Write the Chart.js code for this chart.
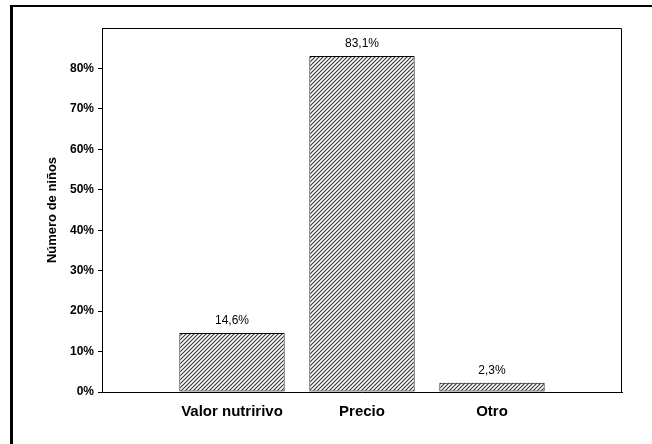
<!DOCTYPE html>
<html>
<head>
<meta charset="utf-8">
<script src="https://cdn.jsdelivr.net/npm/chart.js@4/dist/chart.umd.min.js"></script>
<style>
  html, body { margin: 0; padding: 0; background: #fff; }
  #wrap { position: relative; width: 652px; height: 444px; }
  #frame { position: absolute; left: 10px; top: 5px; right: 0; bottom: 0;
           border-left: 3px solid #000; border-top: 2px solid #000; pointer-events: none; }
  canvas { position: absolute; left: 0; top: 0; }
</style>
</head>
<body>
<div id="wrap">
  <canvas id="chart" width="652" height="444"></canvas>
  <div id="frame"></div>
</div>
<script>
// categories (empty slots at the ends keep the bars where the original puts them)
const categories = ['', 'Valor nutririvo', 'Precio', 'Otro', ''];
const values = [null, 14.6, 83.1, 2.3, null];
const yTicks = [0, 10, 20, 30, 40, 50, 60, 70, 80];
const yTitle = 'Número de niños';

// hatch pattern
function makeHatch() {
    const c = document.createElement('canvas');
    c.width = 4; c.height = 4;
    const g = c.getContext('2d');
    g.fillStyle = '#fff';
    g.fillRect(0, 0, 4, 4);
    g.strokeStyle = '#333';
    g.lineWidth = 1.1;
    g.beginPath();
    g.moveTo(0, 4); g.lineTo(4, 0);
    g.moveTo(-1, 1); g.lineTo(1, -1);
    g.moveTo(3, 5); g.lineTo(5, 3);
    g.stroke();
    return g.createPattern(c, 'repeat');
}

const fmt = v => v.toFixed(1).replace('.', ',') + '%';

// value labels, plot box, and the rotated y title
const extras = {
    id: 'extras',
    afterDatasetsDraw(chart) {
        const ctx = chart.ctx;
        const area = chart.chartArea;
        ctx.save();
        ctx.strokeStyle = '#000';
        ctx.lineWidth = 1;
        ctx.beginPath();
        ctx.moveTo(area.left + 0.5, area.top + 0.5);
        ctx.lineTo(area.right - 0.5, area.top + 0.5);
        ctx.lineTo(area.right - 0.5, area.bottom);
        ctx.stroke();

        ctx.fillStyle = '#000';
        ctx.font = '12px "Liberation Sans", Arial, sans-serif';
        ctx.textAlign = 'center';
        ctx.textBaseline = 'bottom';
        chart.getDatasetMeta(0).data.forEach((bar, i) => {
            if (values[i] == null) return;
            ctx.fillText(fmt(values[i]), bar.x, bar.y - 6);
        });

        ctx.font = 'bold 13px "Liberation Sans", Arial, sans-serif';
        ctx.translate(52, (area.top + area.bottom) / 2);
        ctx.rotate(-Math.PI / 2);
        ctx.textBaseline = 'middle';
        ctx.fillText(yTitle, 0, 0);
        ctx.restore();
    }
};

const ctx = document.getElementById('chart').getContext('2d');
const chart = new Chart(ctx, {
    type: 'bar',
    data: {
        labels: categories,
        datasets: [{
            data: values,
            backgroundColor: makeHatch(),
            borderColor: '#000',
            borderWidth: 1,
            borderSkipped: false,
            barPercentage: 0.81,
            categoryPercentage: 1
        }]
    },
    options: {
        responsive: false,
        animation: false,
        layout: { padding: { left: 14, right: 30, top: 28, bottom: 0 } },
        plugins: { legend: { display: false }, tooltip: { enabled: false } },
        scales: {
            x: {
                offset: false,
                grid: { display: false },
                border: { display: true, color: '#000', width: 1 },
                ticks: {
                    color: '#000',
                    font: { family: '"Liberation Sans", Arial, sans-serif', size: 15, weight: 'bold' },
                    padding: 3,
                    maxRotation: 0,
                    autoSkip: false
                },
                afterFit(scale) { scale.height = 52; }
            },
            y: {
                min: 0,
                max: 90,
                afterBuildTicks(scale) { scale.ticks = yTicks.map(v => ({ value: v })); },
                grid: { drawOnChartArea: false, drawTicks: true, tickLength: 4, color: '#000' },
                border: { display: true, color: '#000', width: 1 },
                ticks: {
                    color: '#000',
                    font: { family: '"Liberation Sans", Arial, sans-serif', size: 12, weight: 'bold' },
                    padding: 4,
                    callback: v => v + '%'
                },
                afterFit(scale) { scale.width = 88; }
            }
        }
    },
    plugins: [extras]
});
</script>
</body>
</html>
